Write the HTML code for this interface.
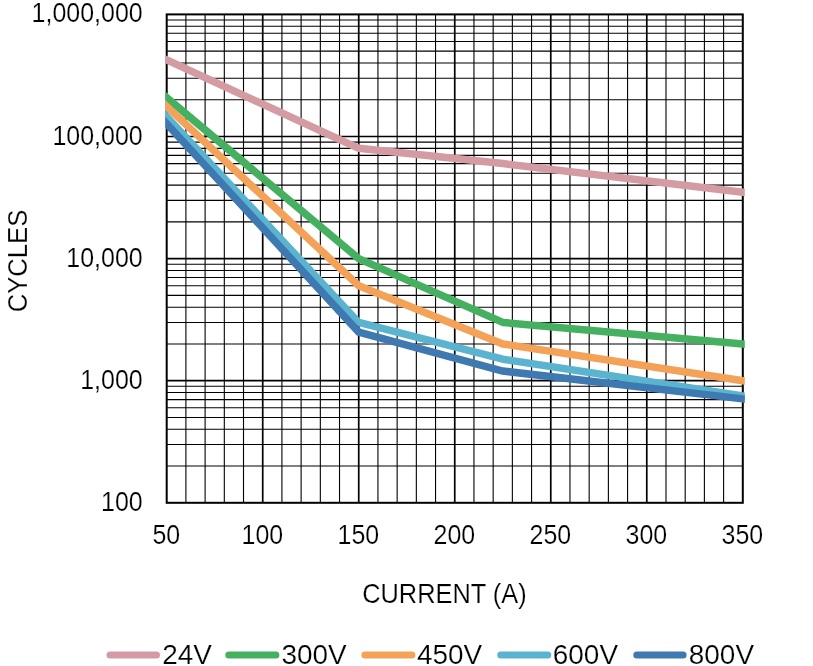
<!DOCTYPE html>
<html><head><meta charset="utf-8"><title>chart</title>
<style>html,body{margin:0;padding:0;background:#fff;}svg{display:block;will-change:transform;}text{font-family:"Liberation Sans",sans-serif;fill:#000;}</style>
</head><body>
<svg width="813" height="666" viewBox="0 0 813 666">
<rect width="813" height="666" fill="#fff"/>
<g stroke="#000" stroke-width="1.1" fill="none">
<line x1="185.90" y1="14.40" x2="185.90" y2="502.80"/>
<line x1="205.11" y1="14.40" x2="205.11" y2="502.80"/>
<line x1="224.31" y1="14.40" x2="224.31" y2="502.80"/>
<line x1="243.51" y1="14.40" x2="243.51" y2="502.80"/>
<line x1="281.92" y1="14.40" x2="281.92" y2="502.80"/>
<line x1="301.12" y1="14.40" x2="301.12" y2="502.80"/>
<line x1="320.33" y1="14.40" x2="320.33" y2="502.80"/>
<line x1="339.53" y1="14.40" x2="339.53" y2="502.80"/>
<line x1="377.94" y1="14.40" x2="377.94" y2="502.80"/>
<line x1="397.14" y1="14.40" x2="397.14" y2="502.80"/>
<line x1="416.34" y1="14.40" x2="416.34" y2="502.80"/>
<line x1="435.55" y1="14.40" x2="435.55" y2="502.80"/>
<line x1="473.95" y1="14.40" x2="473.95" y2="502.80"/>
<line x1="493.16" y1="14.40" x2="493.16" y2="502.80"/>
<line x1="512.36" y1="14.40" x2="512.36" y2="502.80"/>
<line x1="531.56" y1="14.40" x2="531.56" y2="502.80"/>
<line x1="569.97" y1="14.40" x2="569.97" y2="502.80"/>
<line x1="589.17" y1="14.40" x2="589.17" y2="502.80"/>
<line x1="608.38" y1="14.40" x2="608.38" y2="502.80"/>
<line x1="627.58" y1="14.40" x2="627.58" y2="502.80"/>
<line x1="665.99" y1="14.40" x2="665.99" y2="502.80"/>
<line x1="685.19" y1="14.40" x2="685.19" y2="502.80"/>
<line x1="704.39" y1="14.40" x2="704.39" y2="502.80"/>
<line x1="723.60" y1="14.40" x2="723.60" y2="502.80"/>
<line x1="166.70" y1="466.04" x2="742.80" y2="466.04"/>
<line x1="166.70" y1="444.54" x2="742.80" y2="444.54"/>
<line x1="166.70" y1="429.29" x2="742.80" y2="429.29"/>
<line x1="166.70" y1="417.46" x2="742.80" y2="417.46"/>
<line x1="166.70" y1="407.79" x2="742.80" y2="407.79"/>
<line x1="166.70" y1="399.61" x2="742.80" y2="399.61"/>
<line x1="166.70" y1="392.53" x2="742.80" y2="392.53"/>
<line x1="166.70" y1="386.29" x2="742.80" y2="386.29"/>
<line x1="166.70" y1="343.94" x2="742.80" y2="343.94"/>
<line x1="166.70" y1="322.44" x2="742.80" y2="322.44"/>
<line x1="166.70" y1="307.19" x2="742.80" y2="307.19"/>
<line x1="166.70" y1="295.36" x2="742.80" y2="295.36"/>
<line x1="166.70" y1="285.69" x2="742.80" y2="285.69"/>
<line x1="166.70" y1="277.51" x2="742.80" y2="277.51"/>
<line x1="166.70" y1="270.43" x2="742.80" y2="270.43"/>
<line x1="166.70" y1="264.19" x2="742.80" y2="264.19"/>
<line x1="166.70" y1="221.84" x2="742.80" y2="221.84"/>
<line x1="166.70" y1="200.34" x2="742.80" y2="200.34"/>
<line x1="166.70" y1="185.09" x2="742.80" y2="185.09"/>
<line x1="166.70" y1="173.26" x2="742.80" y2="173.26"/>
<line x1="166.70" y1="163.59" x2="742.80" y2="163.59"/>
<line x1="166.70" y1="155.41" x2="742.80" y2="155.41"/>
<line x1="166.70" y1="148.33" x2="742.80" y2="148.33"/>
<line x1="166.70" y1="142.09" x2="742.80" y2="142.09"/>
<line x1="166.70" y1="99.74" x2="742.80" y2="99.74"/>
<line x1="166.70" y1="78.24" x2="742.80" y2="78.24"/>
<line x1="166.70" y1="62.99" x2="742.80" y2="62.99"/>
<line x1="166.70" y1="51.16" x2="742.80" y2="51.16"/>
<line x1="166.70" y1="41.49" x2="742.80" y2="41.49"/>
<line x1="166.70" y1="33.31" x2="742.80" y2="33.31"/>
<line x1="166.70" y1="26.23" x2="742.80" y2="26.23"/>
<line x1="166.70" y1="19.99" x2="742.80" y2="19.99"/>
</g>
<g stroke="#000" stroke-width="1.7" fill="none">
<line x1="262.72" y1="14.40" x2="262.72" y2="502.80"/>
<line x1="358.73" y1="14.40" x2="358.73" y2="502.80"/>
<line x1="454.75" y1="14.40" x2="454.75" y2="502.80"/>
<line x1="550.77" y1="14.40" x2="550.77" y2="502.80"/>
<line x1="646.78" y1="14.40" x2="646.78" y2="502.80"/>
<line x1="166.70" y1="380.70" x2="742.80" y2="380.70"/>
<line x1="166.70" y1="258.60" x2="742.80" y2="258.60"/>
<line x1="166.70" y1="136.50" x2="742.80" y2="136.50"/>
</g>
<rect x="166.70" y="14.40" width="576.10" height="488.40" fill="none" stroke="#000" stroke-width="2"/>
<clipPath id="c"><rect x="165.30" y="0" width="579.50" height="666"/></clipPath>
<g clip-path="url(#c)" fill="none" stroke-width="7.5" stroke-linejoin="round" stroke-linecap="round">
<polyline stroke="#D49CA2" points="160.70,57.14 166.70,59.90 358.73,148.33 502.76,163.59 742.80,192.17 748.80,192.88"/>
<polyline stroke="#45B05F" points="160.70,92.64 166.70,97.66 358.73,258.60 502.76,322.44 742.80,343.94 748.80,344.48"/>
<polyline stroke="#F3A258" points="160.70,100.92 166.70,106.52 358.73,285.69 502.76,343.94 742.80,380.70 748.80,381.62"/>
<polyline stroke="#5BB4CF" points="160.70,110.37 166.70,116.80 358.73,322.44 502.76,359.20 742.80,395.96 748.80,396.87"/>
<polyline stroke="#3F79B2" points="160.70,117.32 166.70,123.83 358.73,332.11 502.76,371.03 742.80,398.86 748.80,399.56"/>
</g>
<text transform="translate(142.70 22.30)  scale(0.925 1)" text-anchor="end" font-size="27" stroke="#fff" stroke-width="0.2">1,000,000</text>
<text transform="translate(142.70 144.70)  scale(0.925 1)" text-anchor="end" font-size="27" stroke="#fff" stroke-width="0.2">100,000</text>
<text transform="translate(142.70 267.00)  scale(0.925 1)" text-anchor="end" font-size="27" stroke="#fff" stroke-width="0.2">10,000</text>
<text transform="translate(142.70 389.20)  scale(0.925 1)" text-anchor="end" font-size="27" stroke="#fff" stroke-width="0.2">1,000</text>
<text transform="translate(142.70 511.30)  scale(0.925 1)" text-anchor="end" font-size="27" stroke="#fff" stroke-width="0.2">100</text>
<text transform="translate(166.30 543.60)  scale(0.925 1)" text-anchor="middle" font-size="27" stroke="#fff" stroke-width="0.2">50</text>
<text transform="translate(262.32 543.60)  scale(0.925 1)" text-anchor="middle" font-size="27" stroke="#fff" stroke-width="0.2">100</text>
<text transform="translate(358.33 543.60)  scale(0.925 1)" text-anchor="middle" font-size="27" stroke="#fff" stroke-width="0.2">150</text>
<text transform="translate(454.35 543.60)  scale(0.925 1)" text-anchor="middle" font-size="27" stroke="#fff" stroke-width="0.2">200</text>
<text transform="translate(550.37 543.60)  scale(0.925 1)" text-anchor="middle" font-size="27" stroke="#fff" stroke-width="0.2">250</text>
<text transform="translate(646.38 543.60)  scale(0.925 1)" text-anchor="middle" font-size="27" stroke="#fff" stroke-width="0.2">300</text>
<text transform="translate(742.40 543.60)  scale(0.925 1)" text-anchor="middle" font-size="27" stroke="#fff" stroke-width="0.2">350</text>
<text transform="translate(444.40 602.70)  scale(0.94 1)" text-anchor="middle" font-size="27" stroke="#fff" stroke-width="0.2">CURRENT (A)</text>
<text transform="translate(27.00 261.00) rotate(-90) scale(0.95 1)" text-anchor="middle" font-size="27" stroke="#fff" stroke-width="0.2">CYCLES</text>
<g fill="none" stroke-width="7" stroke-linecap="round">
<line x1="110.00" y1="654.90" x2="156.50" y2="654.90" stroke="#D49CA2"/>
<line x1="228.80" y1="654.90" x2="275.90" y2="654.90" stroke="#45B05F"/>
<line x1="364.90" y1="654.90" x2="411.90" y2="654.90" stroke="#F3A258"/>
<line x1="500.70" y1="654.90" x2="547.80" y2="654.90" stroke="#5BB4CF"/>
<line x1="636.80" y1="654.90" x2="683.10" y2="654.90" stroke="#3F79B2"/>
</g>
<text transform="translate(162.30 664.40)  scale(1.035 1)" text-anchor="start" font-size="27" stroke="#fff" stroke-width="0.2">24V</text>
<text transform="translate(281.50 664.40)  scale(1.035 1)" text-anchor="start" font-size="27" stroke="#fff" stroke-width="0.2">300V</text>
<text transform="translate(417.00 664.40)  scale(1.035 1)" text-anchor="start" font-size="27" stroke="#fff" stroke-width="0.2">450V</text>
<text transform="translate(552.80 664.40)  scale(1.035 1)" text-anchor="start" font-size="27" stroke="#fff" stroke-width="0.2">600V</text>
<text transform="translate(688.80 664.40)  scale(1.035 1)" text-anchor="start" font-size="27" stroke="#fff" stroke-width="0.2">800V</text>
</svg>
</body></html>
